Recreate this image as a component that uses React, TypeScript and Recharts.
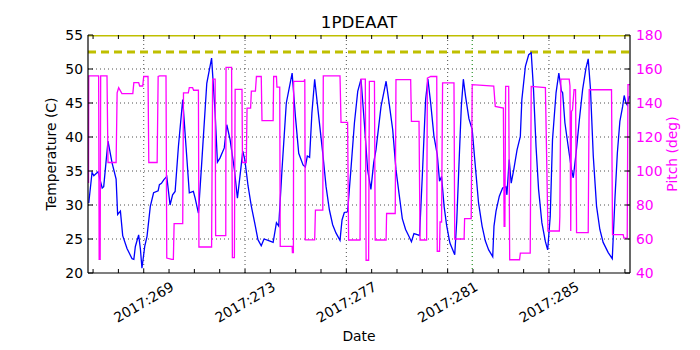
import React from 'react';
import {
  LineChart,
  Line,
  XAxis,
  YAxis,
  ReferenceLine,
  Label,
} from 'recharts';

// day-of-year (2017) vs temperature in C
const tempSeries: [number, number][] = [
  [266.83, 30.3], [266.96, 34.8], [267.03, 34.3], [267.2, 34.9], [267.29, 33.5], [267.36, 32.5],
  [267.42, 32.7], [267.59, 39.4], [267.75, 36.2], [267.91, 33.8], [267.97, 28.6], [268.08, 29.1],
  [268.17, 25.5], [268.34, 23.6], [268.54, 22.1], [268.61, 22.0], [268.67, 23.9], [268.8, 25.6],
  [268.87, 23.5], [268.93, 20.7], [269.04, 23.9], [269.13, 25.4], [269.26, 29.8], [269.39, 31.8],
  [269.57, 32.1], [269.62, 33.0], [269.7, 33.2], [269.79, 33.7], [269.91, 34.2], [270.04, 30.0],
  [270.14, 31.5], [270.24, 32.0], [270.37, 38.6], [270.54, 45.5], [270.67, 38.6], [270.8, 31.8],
  [270.96, 32.0], [271.03, 31.0], [271.16, 28.8], [271.29, 36.2], [271.49, 47.9], [271.68, 51.6],
  [271.82, 43.5], [271.91, 36.3], [272.01, 36.9], [272.18, 38.4], [272.28, 41.8], [272.41, 39.6],
  [272.58, 35.2], [272.7, 31.0], [272.83, 35.2], [272.91, 37.9], [272.99, 36.7], [273.12, 32.8],
  [273.25, 29.8], [273.38, 27.4], [273.51, 24.9], [273.64, 24.0], [273.75, 25.0], [273.91, 24.8],
  [274.11, 24.5], [274.24, 27.4], [274.33, 26.9], [274.46, 35.2], [274.63, 45.0], [274.86, 49.4],
  [274.99, 43.0], [275.12, 37.6], [275.29, 35.9], [275.38, 35.6], [275.46, 37.2], [275.55, 37.0],
  [275.64, 43.5], [275.75, 48.5], [275.91, 43.0], [276.07, 37.6], [276.2, 32.7], [276.33, 29.3],
  [276.46, 27.1], [276.59, 25.9], [276.75, 24.8], [276.83, 27.8], [276.92, 28.9], [277.05, 29.0],
  [277.18, 35.2], [277.32, 42.1], [277.45, 46.7], [277.58, 48.5], [277.71, 42.1], [277.84, 35.2],
  [277.97, 32.3], [278.08, 36.2], [278.17, 38.1], [278.37, 44.5], [278.57, 48.2], [278.7, 44.7],
  [278.83, 41.1], [278.96, 35.2], [279.08, 31.7], [279.21, 28.0], [279.34, 26.4], [279.47, 25.4],
  [279.57, 24.6], [279.67, 25.8], [279.83, 25.6], [279.89, 25.5], [280.0, 34.3], [280.13, 45.5],
  [280.22, 48.5], [280.33, 45.0], [280.46, 40.1], [280.59, 37.4], [280.68, 33.5], [280.76, 34.2],
  [280.86, 29.8], [280.96, 27.0], [281.09, 24.4], [281.28, 22.7], [281.36, 27.7], [281.45, 36.2],
  [281.54, 44.5], [281.62, 48.5], [281.71, 45.9], [281.84, 42.7], [281.97, 41.1], [282.07, 36.7],
  [282.22, 30.3], [282.36, 26.9], [282.49, 24.7], [282.62, 23.4], [282.78, 22.4], [282.83, 26.9],
  [282.91, 29.1], [283.04, 31.3], [283.17, 32.5], [283.3, 32.7], [283.34, 31.5], [283.43, 36.7],
  [283.51, 33.2], [283.61, 35.2], [283.74, 38.1], [283.87, 40.1], [283.93, 45.5], [284.07, 50.4],
  [284.2, 52.1], [284.3, 52.4], [284.39, 47.0], [284.49, 38.6], [284.59, 32.3], [284.72, 27.4],
  [284.86, 24.6], [284.95, 23.4], [285.05, 28.3], [285.14, 39.6], [285.28, 46.5], [285.39, 49.4],
  [285.49, 46.8], [285.54, 46.5], [285.63, 42.1], [285.76, 38.6], [285.89, 35.2], [285.96, 34.0],
  [286.07, 37.6], [286.2, 42.5], [286.33, 47.0], [286.46, 50.1], [286.55, 51.5], [286.64, 47.0],
  [286.75, 37.2], [286.88, 29.8], [287.01, 26.4], [287.14, 24.5], [287.34, 23.0], [287.5, 22.1],
  [287.54, 25.4], [287.61, 31.3], [287.7, 37.6], [287.8, 42.3], [287.91, 44.5], [287.97, 46.1],
  [288.04, 45.0], [288.09, 44.7], [288.17, 46.0],
];

// day-of-year vs pitch in deg
const pitchSeries: [number, number][] = [
  [266.82, 93], [266.83, 156], [267.22, 156], [267.24, 48], [267.28, 48], [267.3, 156],
  [267.55, 156], [267.59, 105], [267.91, 105], [267.95, 146], [268.01, 149], [268.14, 145.5],
  [268.57, 145.5], [268.61, 152], [268.8, 152], [268.84, 150], [268.96, 150], [269.0, 155.6],
  [269.17, 155.6], [269.2, 105], [269.53, 105], [269.57, 155.6], [269.63, 156], [269.88, 156],
  [269.91, 48.8], [270.11, 48], [270.17, 48], [270.2, 69], [270.54, 69], [270.57, 146],
  [270.76, 146], [270.8, 149], [270.93, 149], [270.97, 147.5], [271.16, 147.5], [271.18, 55.3],
  [271.68, 55.3], [271.72, 154], [271.82, 154], [271.84, 62], [272.24, 62], [272.25, 161],
  [272.47, 161], [272.5, 49], [272.58, 49], [272.61, 148], [272.88, 148], [272.9, 105],
  [273.05, 105], [273.08, 137], [273.22, 137], [273.25, 147], [273.41, 147], [273.45, 155.6],
  [273.64, 155.6], [273.67, 129.6], [274.11, 129.6], [274.13, 155.6], [274.24, 155.6], [274.26, 149.3],
  [274.37, 149.3], [274.39, 55.7], [274.86, 55.7], [274.87, 52], [274.91, 52], [274.92, 152.7],
  [275.33, 152.7], [275.36, 154], [275.38, 59.5], [275.75, 59.5], [275.78, 77], [276.07, 77],
  [276.09, 156], [276.75, 156], [276.79, 128.6], [277.05, 128.6], [277.09, 59.4], [277.54, 59.4],
  [277.58, 154], [277.75, 154], [277.78, 47.5], [277.88, 47.5], [277.91, 152.7], [278.11, 152.7],
  [278.14, 59.4], [278.57, 59.4], [278.59, 75], [278.93, 75], [278.96, 153.8], [279.54, 153.8],
  [279.57, 129.2], [279.87, 129.2], [279.91, 59.4], [280.17, 59.4], [280.2, 154.6], [280.33, 155.6],
  [280.57, 155.6], [280.59, 52.8], [280.68, 52.8], [280.7, 70], [280.76, 70], [280.8, 151.8],
  [281.25, 151.8], [281.28, 60], [281.65, 60], [281.67, 72], [281.93, 72], [281.97, 150.8],
  [282.82, 150], [282.88, 138], [283.2, 137], [283.23, 67.5], [283.26, 67.5], [283.29, 149.8],
  [283.41, 149.8], [283.45, 47.8], [283.84, 47.8], [283.87, 51.7], [284.26, 51.7], [284.3, 149.8],
  [284.86, 149], [284.96, 64.7], [285.41, 64.7], [285.43, 73.3], [285.47, 154], [285.8, 154],
  [285.83, 150], [285.86, 64.7], [285.89, 135], [285.93, 136], [285.99, 147.8], [286.05, 147.8],
  [286.09, 63.7], [286.55, 63.7], [286.59, 147.8], [287.47, 147.8], [287.51, 62.6], [287.93, 62.6],
  [287.96, 60.5], [288.09, 60.5], [288.12, 150.8], [288.2, 150.8],
];

const xDomain: [number, number] = [266.8, 288.2];
const minorDays = Array.from({ length: 22 }, (_, i) => 267 + i);
const majorDays = [269, 273, 277, 281, 285];
const majorLabels = ['2017:269', '2017:273', '2017:277', '2017:281', '2017:285'];
const tempTicks = [20, 25, 30, 35, 40, 45, 50, 55];
const pitchTicks = [40, 60, 80, 100, 120, 140, 160, 180];
const planningLimit = 52.5;
const topLimit = 55;
const nowDay = 281.97;

const W = 700;
const H = 350;
const M = { top: 35, right: 0, bottom: 0, left: 0 };
const LEFT_W = 88;
const RIGHT_W = 70;
const BOTTOM_H = 77;
const PLOT_H = H - M.top - BOTTOM_H;

const FONT = '"DejaVu Sans", sans-serif';
const BLUE = '#0000ff';
const MAGENTA = '#ff00ff';
const OLIVE = '#bfbf00';
const FRAME = { stroke: '#000', strokeWidth: 1.2 };

const tempData = tempSeries.map(([day, temp]) => ({ day, temp }));
const pitchData = pitchSeries.map(([day, pitch]) => ({ day, pitch }));

const DateTick = (props: any) => {
  const { x, y, payload } = props;
  const idx = majorDays.indexOf(payload.value);
  return (
    <g>
      <line x1={x} y1={y} x2={x} y2={y - 4} stroke="#000" />
      <line x1={x} y1={y - PLOT_H} x2={x} y2={y - PLOT_H + 4} stroke="#000" />
      {idx >= 0 && (
        <text
          x={x}
          y={y + 29}
          textAnchor="middle"
          dominantBaseline="central"
          transform={`rotate(-30, ${x}, ${y + 29})`}
          fontSize={13.9}
          fontFamily={FONT}
          fill="#000"
        >
          {majorLabels[idx]}
        </text>
      )}
    </g>
  );
};

const TempTick = (props: any) => {
  const { x, y, payload } = props;
  return (
    <g>
      <line x1={x} y1={y} x2={x + 5} y2={y} stroke="#000" />
      <text x={x - 5} y={y} textAnchor="end" dominantBaseline="central" fontSize={13.9} fontFamily={FONT} fill="#000">
        {payload.value}
      </text>
    </g>
  );
};

const PitchTick = (props: any) => {
  const { x, y, payload } = props;
  return (
    <g>
      <line x1={x} y1={y} x2={x - 5} y2={y} stroke="#000" />
      <text x={x + 6} y={y} textAnchor="start" dominantBaseline="central" fontSize={13.9} fontFamily={FONT} fill={MAGENTA}>
        {payload.value}
      </text>
    </g>
  );
};

export default function App() {
  return (
    <div style={{ position: 'absolute', left: 0, top: 0, width: W, height: H, background: '#fff', fontFamily: FONT }}>
      <div
        style={{
          position: 'absolute',
          left: LEFT_W,
          top: 12,
          width: W - LEFT_W - RIGHT_W,
          textAlign: 'center',
          fontSize: 16.7,
          lineHeight: '20px',
          color: '#000',
        }}
      >
        1PDEAAT
      </div>
      <LineChart width={W} height={H} margin={M}>
        <XAxis
          type="number"
          dataKey="day"
          domain={xDomain}
          allowDataOverflow
          ticks={minorDays}
          interval={0}
          height={BOTTOM_H}
          tickSize={0}
          tickMargin={0}
          tickLine={false}
          axisLine={FRAME}
          tick={<DateTick />}
        >
          <Label value="Date" position="center" dy={25} fontSize={13.9} fontFamily={FONT} fill="#000" />
        </XAxis>
        <XAxis
          xAxisId="top"
          orientation="top"
          type="number"
          domain={xDomain}
          allowDataOverflow
          height={0}
          tick={false}
          tickLine={false}
          axisLine={FRAME}
        />
        <YAxis
          yAxisId="left"
          domain={[20, 55]}
          ticks={tempTicks}
          interval={0}
          width={LEFT_W}
          tickSize={0}
          tickMargin={0}
          tickLine={false}
          axisLine={FRAME}
          tick={<TempTick />}
        >
          <Label value="Temperature (C)" angle={-90} position="center" dx={7} fontSize={13.9} fontFamily={FONT} fill="#000" />
        </YAxis>
        <YAxis
          yAxisId="right"
          orientation="right"
          domain={[40, 180]}
          ticks={pitchTicks}
          interval={0}
          width={RIGHT_W}
          tickSize={0}
          tickMargin={0}
          tickLine={false}
          axisLine={FRAME}
          tick={<PitchTick />}
        >
          <Label value="Pitch (deg)" angle={-90} position="center" dx={7} fontSize={13.9} fontFamily={FONT} fill={MAGENTA} />
        </YAxis>

        {tempTicks.slice(1, -1).map((t) => (
          <ReferenceLine key={`h${t}`} yAxisId="left" y={t} stroke="#222" strokeWidth={0.8} strokeDasharray="1 3" />
        ))}
        {majorDays.map((d) => (
          <ReferenceLine key={`v${d}`} yAxisId="left" x={d} stroke="#222" strokeWidth={0.8} strokeDasharray="1 3" />
        ))}
        <ReferenceLine yAxisId="left" x={nowDay} stroke="#008000" strokeWidth={1} strokeDasharray="1 3" />
        <ReferenceLine yAxisId="left" y={planningLimit} stroke={OLIVE} strokeWidth={3} strokeDasharray="8 5" />
        <ReferenceLine yAxisId="left" y={topLimit} ifOverflow="hidden" stroke={OLIVE} strokeWidth={3} />

        <Line
          data={tempData}
          yAxisId="left"
          dataKey="temp"
          type="linear"
          stroke={BLUE}
          strokeWidth={1.3}
          dot={false}
          isAnimationActive={false}
        />
        <Line
          data={pitchData}
          yAxisId="right"
          dataKey="pitch"
          type="linear"
          stroke={MAGENTA}
          strokeWidth={1.3}
          dot={false}
          isAnimationActive={false}
        />
      </LineChart>
    </div>
  );
}
